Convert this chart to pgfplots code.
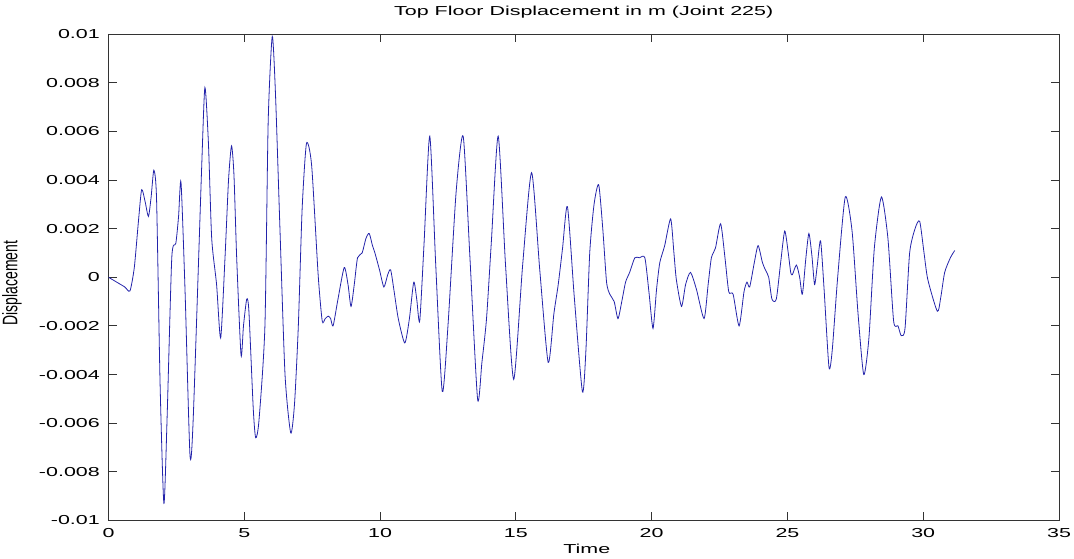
\documentclass[border=0pt]{standalone}
\usepackage{graphicx}
\usepackage{pgfplots}
\pgfplotsset{compat=1.18}
\usepackage{fontspec}
\setmainfont{Liberation Sans}[FakeStretch=1.65]
\newfontfamily\ylabfont{Liberation Sans}
\definecolor{sig}{RGB}{35,35,170}

\begin{document}
\begin{tikzpicture}
\path[use as bounding box] (0,0) rectangle (1074pt,559pt);
\begin{axis}[
  at={(108.5pt,38.5pt)}, anchor=south west,
  scale only axis, width=950.5pt, height=486.5pt,
  xmin=0, xmax=35, ymin=-0.01, ymax=0.01,
  xtick={0,5,10,15,20,25,30,35},
  xticklabels={0,5,10,15,20,25,30,35},
  ytick={-0.01,-0.008,-0.006,-0.004,-0.002,0,0.002,0.004,0.006,0.008,0.01},
  yticklabels={-0.01,-0.008,-0.006,-0.004,-0.002,0,0.002,0.004,0.006,0.008,0.01},
  scaled y ticks=false, scaled x ticks=false,
  tick align=inside, major tick length=8pt,
  axis line style={black!80, line width=0.8pt},
  every tick/.style={black!80, line width=0.8pt},
  tick label style={font=\fontsize{13}{15}\selectfont},
  yticklabel style={anchor=east, inner sep=0pt, xshift=-8.5pt},
  xticklabel style={anchor=north, inner sep=0pt, yshift=-7.5pt},
  title={Top Floor Displacement in m (Joint 225)},
  title style={font=\fontsize{13}{15}\selectfont, at={(axis description cs:0.5,1)}, anchor=base, yshift=12.3pt, inner sep=0pt},
  xlabel={Time},
  xlabel style={font=\fontsize{13}{15}\selectfont, at={(axis description cs:0.5,0)}, anchor=center, yshift=-28.5pt, xshift=3pt},
  ylabel={\scalebox{1}[1.5]{\ylabfont\fontsize{14}{16}\selectfont Displacement}},
  ylabel style={at={(axis description cs:0,0.488)}, anchor=center, yshift=96.5pt},
]
\addplot[sig, line width=0.8pt, smooth, tension=0.4] coordinates {
(0,0) (0.3,-0.0002) (0.6,-0.0004) (0.79,-0.00056) (0.95,0.0004) (1.10,0.00227)
(1.22,0.0036) (1.35,0.0031) (1.47,0.0025) (1.57,0.0033) (1.67,0.0044) (1.77,0.0032)
(1.90,-0.0044) (2.04,-0.0093) (2.16,-0.0057) (2.33,0.0008) (2.48,0.0014) (2.58,0.0025)
(2.67,0.0039) (2.82,-0.0006) (3.00,-0.0073) (3.12,-0.0058) (3.43,0.0045) (3.55,0.0078)
(3.68,0.0055) (3.80,0.0016) (3.98,-0.0003) (4.13,-0.0025) (4.29,0.0008) (4.42,0.0040)
(4.53,0.0054) (4.62,0.0042) (4.72,0.0008) (4.88,-0.0032) (4.97,-0.0020) (5.09,-0.0009)
(5.17,-0.0014) (5.33,-0.0054) (5.42,-0.0066) (5.54,-0.0059) (5.76,-0.0020) (5.88,0.0064)
(6.03,0.0099) (6.15,0.0075) (6.31,0.0021) (6.50,-0.0040) (6.71,-0.0064) (6.85,-0.0052)
(6.99,-0.0020) (7.13,0.0028) (7.29,0.0055) (7.48,0.0046) (7.72,0.0001) (7.87,-0.0018)
(7.98,-0.0017) (8.09,-0.0016) (8.18,-0.0017) (8.27,-0.0020) (8.45,-0.0009) (8.68,0.0004)
(8.82,-0.0003) (8.93,-0.0012) (9.05,-0.0003) (9.17,0.0008) (9.34,0.0010) (9.48,0.0016)
(9.60,0.0018) (9.72,0.0013) (9.81,0.0010) (9.98,0.0003) (10.14,-0.0004) (10.28,0.0001)
(10.39,0.0003) (10.52,-0.0006) (10.67,-0.0017) (10.91,-0.0027) (11.08,-0.0017) (11.24,-0.0002)
(11.35,-0.0009) (11.46,-0.0018) (11.62,0.0014) (11.83,0.0058) (12.05,0.0005) (12.29,-0.0047)
(12.5,-0.0020) (12.8,0.0035) (13.06,0.0058) (13.3,0.0010) (13.59,-0.0050) (13.75,-0.0035)
(13.92,-0.0017) (14.1,0.0015) (14.35,0.0058) (14.62,0.0005) (14.92,-0.0042) (15.25,0.0005)
(15.58,0.0043) (15.88,0.0003) (16.19,-0.0035) (16.40,-0.0015) (16.56,-0.0003) (16.72,0.0012)
(16.90,0.0029) (17.15,-0.0008) (17.45,-0.0047) (17.58,-0.0030) (17.72,0.0010) (17.88,0.0030)
(18.05,0.0038) (18.20,0.0020) (18.34,-0.0002) (18.46,-0.0007) (18.62,-0.0010) (18.76,-0.0017)
(18.90,-0.0010) (19.04,-0.0002) (19.19,0.0002) (19.38,0.0008) (19.55,0.0008) (19.75,0.0008)
(19.90,-0.0006) (20.05,-0.0021) (20.18,-0.0005) (20.30,0.0006) (20.48,0.0013) (20.70,0.0024)
(20.82,0.0010) (20.91,-0.0001) (21.10,-0.0012) (21.25,-0.0003) (21.43,0.0002) (21.65,-0.0005)
(21.93,-0.0017) (22.08,-0.0003) (22.20,0.0008) (22.35,0.0012) (22.54,0.0022) (22.70,0.0008)
(22.84,-0.0006) (23.00,-0.0007) (23.22,-0.0020) (23.40,-0.0006) (23.51,-0.0002) (23.61,-0.0004)
(23.78,0.0006) (23.92,0.0013) (24.08,0.0006) (24.19,0.0003) (24.31,0.0000) (24.43,-0.0009)
(24.59,-0.0009) (24.75,0.0006) (24.90,0.0019) (25.03,0.0010) (25.12,0.0002) (25.18,0.0001)
(25.33,0.0005) (25.45,0.0000) (25.55,-0.0007) (25.68,0.0008) (25.79,0.0018) (25.90,0.0009)
(26.00,-0.0003) (26.10,0.0005) (26.22,0.0015) (26.35,-0.0005) (26.53,-0.0037) (26.65,-0.0030)
(26.85,0.0000) (27.13,0.0033) (27.38,0.0019) (27.6,-0.0015) (27.81,-0.0040) (28.0,-0.0025)
(28.2,0.0012) (28.46,0.0033) (28.70,0.0016) (28.91,-0.0018) (29.07,-0.0020) (29.19,-0.0024)
(29.33,-0.0021) (29.50,0.0010) (29.70,0.0020) (29.87,0.0023) (30.03,0.0010) (30.17,-0.0001)
(30.52,-0.0014) (30.65,-0.0008) (30.79,0.0002) (31.0,0.0008) (31.16,0.0011)
};
\end{axis}
\end{tikzpicture}
\end{document}
